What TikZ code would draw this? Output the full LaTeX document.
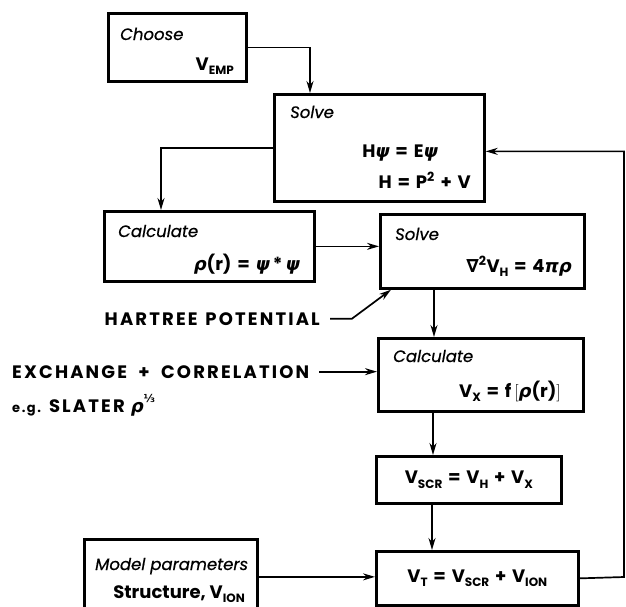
\documentclass[tikz,border=0pt]{standalone}
\usepackage{fontspec}
\setmainfont{Poppins}
\newfontfamily\gkf{DejaVu Sans}
\usetikzlibrary{arrows.meta}
\newcommand\lo[1]{\raisebox{-0.45ex}{\fontsize{12}{12}\selectfont #1}}
\newcommand\gk[1]{{\gkf\bfseries\itshape #1}}
\newcommand\gku[1]{{\gkf\bfseries #1}}
\newcommand\gapx{\hspace{0.32em}}
\tikzset{
  box/.style={draw, line width=2.7pt, inner sep=0pt, anchor=north west},
  arr/.style={line width=1.7pt, -{Stealth[length=12pt,width=7pt]}},
  lbl/.style={inner sep=0pt, font=\fontsize{16.5}{18}\selectfont\itshape\addfontfeature{FakeBold=0.6}},
  eq/.style={inner sep=0pt, font=\fontsize{18}{20}\selectfont\bfseries},
  captext/.style={inner sep=0pt, font=\fontsize{18}{20}\selectfont\bfseries\addfontfeature{LetterSpace=12}},
}
\begin{document}
\begin{tikzpicture}[x=1pt,y=-1pt]
\useasboundingbox (0,0) rectangle (626,606);
% boxes
\node[box, minimum width=138pt, minimum height=68pt] (choose) at (107,12) {};
\node[box, minimum width=210pt, minimum height=107pt] (solve) at (273,93) {};
\node[box, minimum width=210pt, minimum height=70pt] (calc) at (103,210) {};
\node[box, minimum width=204pt, minimum height=74pt] (solve2) at (379,213) {};
\node[box, minimum width=205pt, minimum height=73pt] (calc2) at (377,337) {};
\node[box, minimum width=185pt, minimum height=47pt] (vscr) at (375,455) {};
\node[box, minimum width=202pt, minimum height=54pt] (vt) at (375,550) {};
\node[box, minimum width=173pt, minimum height=75pt] (model) at (83,538) {};
% texts in boxes
\node[lbl, anchor=base west] (t1) at (120,40) {Choose};
\node[eq, anchor=base east] (t2) at (234,70) {V\lo{EMP}};
\node[lbl, anchor=base west] (t3) at (290,118) {Solve};
\node[eq, anchor=base east] (t4) at (438,157) {H\gk{ψ}\gapx=\gapx E\gk{ψ}};
\node[eq, anchor=base east] (t5) at (471,188) {H\gapx=\gapx P\textsuperscript{2}\gapx+\gapx V};
\node[lbl, anchor=base west] (t6) at (118,237) {Calculate};
\node[eq, anchor=base east] (t7) at (300,270) {\gk{ρ}(r)\gapx=\gapx\gk{ψ}\,*\,\gk{ψ}};
\node[lbl, anchor=base west] (t8) at (395,240) {Solve};
\node[eq, anchor=base east] (t9) at (572,272) {\gku{∇}\textsuperscript{2}V\lo{H}\gapx=\gapx4\gk{πρ}};
\node[lbl, anchor=base west] (t10) at (393,362) {Calculate};
\node[eq, anchor=base east] (t11) at (561,397) {V\lo{X}\gapx=\gapx f\,$\bigl[$\gk{ρ}(r)$\bigr]$};
\node[eq] (t12) at (vscr.center) {V\lo{SCR}\gapx=\gapx V\lo{H}\gapx+\gapx V\lo{X}};
\node[eq] (t13) at (vt.center) {V\lo{T}\gapx=\gapx V\lo{SCR}\gapx+\gapx V\lo{ION}};
\node[lbl, anchor=base west] (t14) at (95,570) {Model parameters};
\node[eq, anchor=base east] (t15) at (245,598) {Structure, V\lo{ION}};
% outside labels
\node[captext, anchor=base east] (hart) at (320,325) {HARTREE\hspace{0.1em} POTENTIAL};
\node[captext, anchor=base west] (exch) at (12,378) {EXCHANGE\hspace{0.3em} +\hspace{0.3em} CORRELATION};
\node[captext, anchor=base west] (slater) at (12,412) {{\fontsize{13}{15}\selectfont e.g.} SLATER \gk{ρ}\raisebox{0.9ex}{\gkf\fontsize{11}{11}\selectfont ⅓}};
% connectors
\draw[arr] (choose.east) -| ([xshift=37pt]solve.north west);
\draw[arr] (solve.west) -| ([xshift=58pt]calc.north west);
\draw[arr] (calc.east) -- (calc.east -| solve2.west);
\coordinate (h1) at ([xshift=10pt]hart.east);
\draw[arr] (h1) -- ++(22,0) -- ([xshift=12pt]solve2.south west);
\draw[arr] ([xshift=55pt]solve2.south west) -- ([xshift=57pt]calc2.north west);
\coordinate (e1) at ([xshift=10pt]exch.east);
\draw[arr] (e1) -- (e1 -| calc2.west);
\draw[arr] ([xshift=56pt]calc2.south west) -- ([xshift=58pt]vscr.north west);
\draw[arr] ([xshift=57pt]vscr.south west) -- ([xshift=57pt]vt.north west);
\draw[arr] (model.east) -- (model.east -| vt.west);
\coordinate (fb) at (624,577);
\draw[arr] (vt.east) -- (fb) |- ([yshift=-3.5pt]solve.east);
\end{tikzpicture}
\end{document}
